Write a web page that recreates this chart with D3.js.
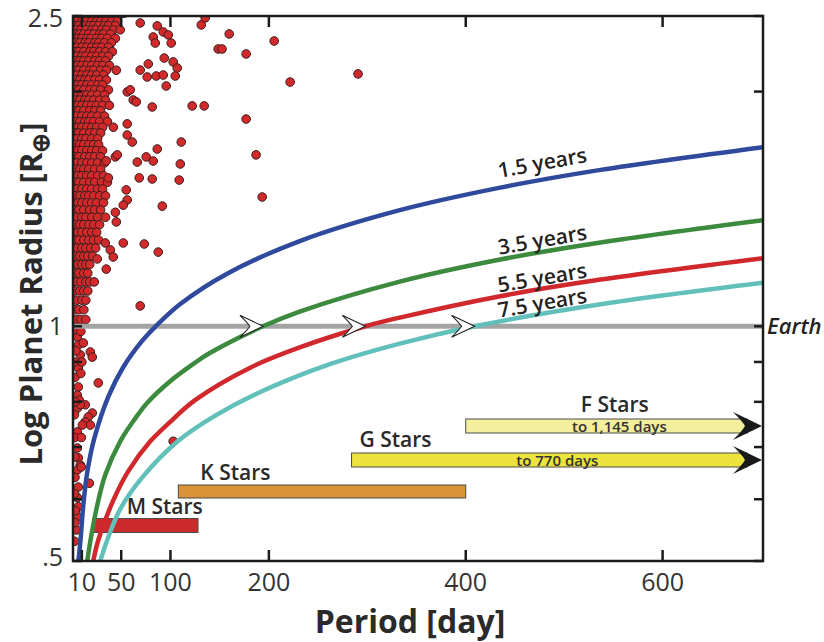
<!DOCTYPE html>
<html><head><meta charset="utf-8">
<script src="https://cdn.jsdelivr.net/npm/d3@7"></script>
<style>
body{margin:0;background:#fff;}
svg{display:block;font-family:"Open Sans",sans-serif;}
</style></head><body>
<svg id="chart" width="824" height="642"></svg>
<script>
// ---------------- data ----------------
const xTickValues = [10, 50, 100, 200, 400, 600];
const yTickValues = [0.5, 1, 2.5];
const yTickText = [".5", "1", "2.5"];
const yMinorTicks = [0.6, 0.7, 0.8, 0.9, 2];

// dense cloud of planets: [radius, [periods...]]
const denseRows = [
 [2.52,[1,6,10,15,19,24,30,35,41,47,53]],
 [2.49,[3,8,13,17,22,27,32,38,43]],
 [2.46,[1,5,10,15,20,25,29,34,40,46]],
 [2.43,[3,7,12,18,22,27,33,37,44]],
 [2.40,[1,5,9,14,20,24,30,35,42,49]],
 [2.37,[3,8,12,17,22,28,32,39]],
 [2.34,[1,6,10,15,19,25,30,36,44]],
 [2.31,[3,8,13,17,23,27,33,40]],
 [2.28,[1,5,10,15,20,25,30,37]],
 [2.25,[3,7,12,18,22,28,34,41]],
 [2.22,[1,5,10,14,20,25,31,37]],
 [2.19,[3,8,12,17,23,28,34]],
 [2.16,[1,6,10,15,20,26,31,38]],
 [2.13,[3,7,12,18,22,29,35,45]],
 [2.10,[1,5,10,15,20,25,32]],
 [2.07,[3,8,13,17,23,28,35]],
 [2.04,[1,6,10,15,20,26,31]],
 [2.01,[3,7,12,18,23,29,37]],
 [1.98,[1,5,10,15,20,26,33]],
 [1.95,[3,8,13,17,22,28,34]],
 [1.92,[1,6,10,15,20,25,31,38]],
 [1.89,[3,7,12,18,23,29]],
 [1.86,[1,5,10,15,20,26,33]],
 [1.83,[3,8,13,17,22,28,36]],
 [1.80,[1,6,10,15,20,25,31,42]],
 [1.77,[3,7,12,18,23,29]],
 [1.74,[1,5,10,14,20,26]],
 [1.71,[3,8,12,17,22,27]],
 [1.68,[1,6,10,15,20,25,31]],
 [1.65,[3,7,13,18,23,29]],
 [1.62,[1,5,10,15,20,26,33]],
 [1.59,[3,8,12,17,23,29]],
 [1.56,[1,6,10,15,20,26,32]],
 [1.53,[3,7,12,18,23,30,36]],
 [1.50,[1,5,10,15,20,26,31]],
 [1.47,[3,8,13,17,22,28,34]],
 [1.44,[1,6,10,15,20,25,32]],
 [1.41,[3,7,12,18,23,29]],
 [1.38,[1,5,10,14,20,26,34]],
 [1.35,[3,8,12,17,22,28]],
 [1.32,[1,6,10,15,20,25]],
 [1.29,[3,7,12,17,22,27]],
 [1.26,[1,5,10,14,19,24]],
 [1.23,[3,8,12,16,21]],
 [1.20,[1,6,10,14,18]],
 [1.17,[3,7,12,16]],
 [1.14,[1,5,9,14,18]],
 [1.11,[3,8,12,16]],
 [1.08,[1,5,10,14]],
 [1.05,[3,7,12]],
 [1.02,[1,5,9,14]]
];
// scattered planets: [period, radius]
const sparsePlanets = [
 [69.3,2.449],[86.6,2.428],[92.7,2.385],[97.8,2.364],[100.8,2.308],[82.5,2.35],[84.6,2.308],
 [131.3,2.435],[135.3,2.486],[159.7,2.371],[148.5,2.268],[152.4,2.268],[176.9,2.235],[205.4,2.322],
 [221.6,2.057],[290.6,2.107],[77.5,2.17],[69.3,2.131],[76.4,2.088],[85.6,2.094],[93.7,2.208],
 [102.8,2.183],[106.9,2.144],[104.9,2.094],[92.7,2.1],[95.7,2.033],[81.5,1.911],[122.1,1.917],
 [134.3,1.917],[176.9,1.844],[111,1.723],[187,1.659],[86.6,1.688],[75.4,1.649],[82.5,1.629],
 [66.3,1.624],[110,1.615],[68.3,1.55],[81.5,1.545],[108.9,1.54],[193.2,1.465],[56.1,1.759],
 [61.2,1.723],[62.2,1.951],[65.3,1.94],[56.1,1.998],[59.2,2.01],[44,1.649],[46,1.659],
 [55.1,1.496],[56.1,1.452],[91.7,1.426],[45,1.361],[33.8,1.279],[52.1,1.279],[73.4,1.275],
 [87.6,1.245],[38.9,1.253],[41.9,1.227],[25.7,1.22],[34.8,1.184],[22.6,1.14],[69.3,1.062],
 [26.7,0.846],[18.6,0.927],[20.6,0.913],[5.4,0.969],[6.4,0.946],[11.5,0.952],[8.4,0.919],
 [6.4,0.884],[6.4,0.836],[5.4,0.816],[7.4,0.804],[13.5,0.793],[20.6,0.774],[16.5,0.765],
 [13.5,0.754],[18.6,0.747],[10.5,0.747],[5.4,0.785],[5.4,0.732],[8.4,0.793],[5.4,0.698],
 [6.4,0.678],[8.4,0.664],[5.4,0.654],[9.4,0.66],[17.6,0.629],[6.4,0.622],[5.4,0.603],
 [6.4,0.587],[5.4,0.57],[4.4,0.548],[3.4,0.58],[102.8,0.712],[56.1,1.818],[34.8,1.63],
 [36.9,1.55],[52.1,1.43],[44,1.4],
 [3,0.99],[9,0.985],[4,0.93],[2.5,0.9],[10,0.9],[3,0.86],[9,0.87],[3,0.8],[2.5,0.77],
 [3,0.72],[9.5,0.72],[3,0.68],[3,0.64],[2.5,0.61],[3,0.56],[2.5,0.53]
];

// detection-limit curves (period in days, radius in Earth radii)
const curveNames = ["1.5 years", "3.5 years", "5.5 years", "7.5 years"];
const curve15Period = [6.5, 8.5, 11.5, 15.5, 22.5, 37, 52, 71, 85, 110, 158, 232, 333, 435, 537, 702];
const curve15Radius = [0.5, 0.53, 0.59, 0.65, 0.717, 0.813, 0.886, 0.957, 1.0, 1.068, 1.169, 1.287, 1.409, 1.506, 1.587, 1.697];
const curve35Period = [15.5, 18.6, 25.7, 33.8, 49, 64.3, 76.5, 100, 125, 140, 194, 232, 333, 435, 537, 702];
const curve35Radius = [0.5, 0.53, 0.59, 0.645, 0.712, 0.762, 0.798, 0.851, 0.898, 0.924, 1.0, 1.045, 1.141, 1.218, 1.281, 1.368];
const curve55Period = [21.6, 26.7, 41.9, 57.2, 79.5, 97.8, 125, 181, 232, 298, 333, 435, 537, 702];
const curve55Radius = [0.5, 0.532, 0.598, 0.652, 0.712, 0.75, 0.804, 0.885, 0.94, 1.0, 1.026, 1.093, 1.148, 1.223];
const curve75Period = [28.7, 35.8, 49, 71.4, 108, 145.5, 188, 262, 333, 409, 537, 702];
const curve75Radius = [0.5, 0.532, 0.583, 0.64, 0.713, 0.768, 0.82, 0.894, 0.95, 1.0, 1.067, 1.137];
const earthArrowPeriods = [194, 298, 409];

// host star period ranges
const starTypes = ["M Stars", "K Stars", "G Stars", "F Stars"];
const starPeriodStart = [21, 108, 284, 400];
const starPeriodEnd = [128, 400, 770, 1145];
const starNotes = ["", "", "to 770 days", "to 1,145 days"];

// ---------------- styles / layout ----------------
const curveColors = ["#2f4a9c", "#3b8a3e", "#d0282c", "#62c0ba"];
const curveLabelLift = [10, 5, 4, 4];
const starColors = ["#cb2a2c", "#dc9236", "#ece33e", "#f4ef9c"];
const starLaneY = [525.5, 491.5, 460, 426];
const starLaneH = [14, 13, 14, 14];
const starLabelOffset = [34, 22, 8, 115]; // px from bar start
const starLabelGap = [5, 5, 6, 7];
const starNoteShift = [0, 0, 8, 13];

const L = 73, R = 763, T = 16, B = 561;
const x = d3.scaleLinear().domain([1, 702]).range([L, R]);
const y = d3.scaleLog().domain([0.5, 2.5]).range([B, T]);
const svg = d3.select("#chart");
svg.append("rect").attr("width", 824).attr("height", 642).attr("fill", "#fff");
svg.append("defs").append("clipPath").attr("id", "plot")
  .append("rect").attr("x", L).attr("y", T).attr("width", R - L).attr("height", B - T);

// planets
const planets = [];
denseRows.forEach(([r, ps]) => ps.forEach(p => planets.push([p, r])));
sparsePlanets.forEach(d => planets.push(d));
svg.append("g").attr("clip-path", "url(#plot)")
  .selectAll("circle").data(planets).join("circle")
  .attr("cx", d => x(d[0])).attr("cy", d => y(d[1])).attr("r", 4.3)
  .attr("fill", "#d22a2b").attr("stroke", "#3a1c1c").attr("stroke-width", 1);

// Earth line
svg.append("line").attr("x1", L).attr("x2", R).attr("y1", y(1)).attr("y2", y(1))
  .attr("stroke", "#a4a4a4").attr("stroke-width", 5);

// star bars
const gBars = svg.append("g");
const xMax = x.domain()[1];
starTypes.forEach((name, i) => {
  const x0 = x(starPeriodStart[i]);
  const overflow = starPeriodEnd[i] > xMax;
  const x1 = overflow ? R - 16 : x(starPeriodEnd[i]);
  const yc = starLaneY[i], h = starLaneH[i];
  gBars.append("rect").attr("x", x0).attr("y", yc - h / 2).attr("width", x1 - x0).attr("height", h)
    .attr("fill", starColors[i]).attr("stroke", "#4a4a4a").attr("stroke-width", 1);
  if (overflow) {
    gBars.append("path")
      .attr("d", `M${R - 1},${yc} L${R - 30},${yc - 14} Q${R - 20},${yc - 4} ${R - 18},${yc} Q${R - 20},${yc + 4} ${R - 30},${yc + 14} Z`)
      .attr("fill", "#1a1a1a");
  }
  if (starNotes[i]) {
    gBars.append("text").attr("x", (x0 + x1) / 2 + starNoteShift[i]).attr("y", yc + h / 2 - 1)
      .attr("text-anchor", "middle").attr("font-size", 15).attr("font-weight", 600)
      .attr("fill", "#333").text(starNotes[i]);
  }
  gBars.append("text").attr("x", x0 + starLabelOffset[i]).attr("y", yc - h / 2 - starLabelGap[i])
    .attr("font-size", 21).attr("font-weight", 600).attr("fill", "#2a2a2a").text(name);
});

// curves
const curves = [
  [curve15Period, curve15Radius], [curve35Period, curve35Radius],
  [curve55Period, curve55Radius], [curve75Period, curve75Radius]
];
const line = d3.line().x(d => x(d[0])).y(d => y(d[1])).curve(d3.curveCatmullRom.alpha(0.5));
const gC = svg.append("g").attr("clip-path", "url(#plot)");
function interp(ps, rs, p) {
  const i = Math.max(1, Math.min(ps.length - 1, d3.bisectLeft(ps, p)));
  const t = (p - ps[i - 1]) / (ps[i] - ps[i - 1]);
  return rs[i - 1] + t * (rs[i] - rs[i - 1]);
}
curves.forEach(([ps, rs], i) => {
  gC.append("path").datum(ps.map((p, j) => [p, rs[j]]))
    .attr("d", line).attr("fill", "none").attr("stroke", curveColors[i])
    .attr("stroke-width", 4.5).attr("stroke-linecap", "butt");
});
// curve labels
curves.forEach(([ps, rs], i) => {
  const pc = 479;
  const xa = x(420), xb = x(540);
  const ya = y(interp(ps, rs, 420)), yb = y(interp(ps, rs, 540));
  const ang = Math.atan2(yb - ya, xb - xa) * 180 / Math.PI;
  const cx = x(pc), cy = y(interp(ps, rs, pc)) - curveLabelLift[i];
  svg.append("text").attr("transform", `translate(${cx},${cy}) rotate(${ang})`)
    .attr("text-anchor", "middle").attr("font-size", 21).attr("font-weight", 600)
    .attr("fill", "#222").text(curveNames[i]);
});

// Earth arrows (open chevrons)
earthArrowPeriods.forEach(p => {
  const tx = x(p), ty = y(1);
  svg.append("path")
    .attr("d", `M${tx},${ty} L${tx - 23},${ty - 11} Q${tx - 15},${ty - 3} ${tx - 13},${ty} Q${tx - 15},${ty + 3} ${tx - 23},${ty + 11} Z`)
    .attr("fill", "#fff").attr("stroke", "#222").attr("stroke-width", 1.1);
});

// frame & ticks
const gA = svg.append("g").attr("stroke", "#1c1c1c").attr("stroke-width", 2.5);
xTickValues.forEach(v => {
  gA.append("line").attr("x1", x(v)).attr("x2", x(v)).attr("y1", B).attr("y2", B - 11);
  gA.append("line").attr("x1", x(v)).attr("x2", x(v)).attr("y1", T).attr("y2", T + 11);
});
yTickValues.concat(yMinorTicks).forEach(v => {
  gA.append("line").attr("x1", L).attr("x2", L + 9).attr("y1", y(v)).attr("y2", y(v));
  gA.append("line").attr("x1", R).attr("x2", R - 9).attr("y1", y(v)).attr("y2", y(v));
});
gA.append("rect").attr("x", L).attr("y", T).attr("width", R - L).attr("height", B - T).attr("fill", "none");

// tick labels
xTickValues.forEach(v => {
  svg.append("text").attr("x", x(v)).attr("y", 591).attr("text-anchor", "middle")
    .attr("font-size", 25).attr("fill", "#333").text(v);
});
yTickValues.forEach((v, i) => {
  svg.append("text").attr("x", 63).attr("y", y(v) + (i === 0 ? 5 : i === 2 ? 11 : 9)).attr("text-anchor", "end")
    .attr("font-size", 25).attr("fill", "#333").text(yTickText[i]);
});

// Earth label
svg.append("text").attr("x", 767).attr("y", y(1) + 8).attr("font-size", 22)
  .attr("font-style", "italic").attr("font-weight", 600).attr("fill", "#222").text("Earth");

// axis titles
svg.append("text").attr("x", 410).attr("y", 633).attr("text-anchor", "middle")
  .attr("font-size", 32).attr("font-weight", 700).attr("fill", "#2a2a2a").text("Period [day]");
const yt = svg.append("text").attr("transform", "translate(42,294) rotate(-90)")
  .attr("text-anchor", "middle").attr("font-size", 31).attr("font-weight", 700).attr("fill", "#2a2a2a");
yt.append("tspan").text("Log Planet Radius [R");
yt.append("tspan").attr("font-size", 24).attr("dy", 7).text("⊕");
yt.append("tspan").attr("dy", -7).text("]");
</script>
</body></html>
